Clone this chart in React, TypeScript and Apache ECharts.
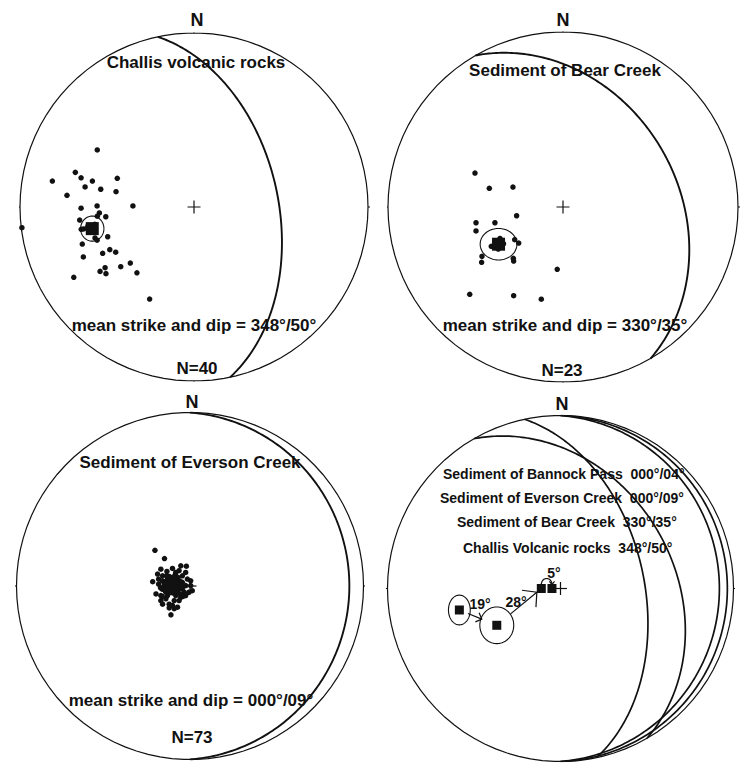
import { useEffect, useRef } from "react";
import * as echarts from "echarts";

const W = 741;
const H = 769;
const INK = "#111111";
const FONT = "'Liberation Sans', Arial, Helvetica, sans-serif";

// Mean bedding attitudes (strike / dip, right-hand rule)
const unitNames = ["Challis Volcanic rocks", "Sediment of Bear Creek", "Sediment of Everson Creek", "Sediment of Bannock Pass"];
const panelTitles = ["Challis volcanic rocks", "Sediment of Bear Creek", "Sediment of Everson Creek"];
const strikes = [348, 330, 0, 0];
const dips = [50, 35, 9, 4];

// Poles to bedding, Schmidt-net coordinates (x east, y north, unit primitive)
const challisPoles: [number, number][] = [
  [-0.556, 0.328], [-0.682, 0.199], [-0.814, 0.149], [-0.649, 0.168], [-0.584, 0.149],
  [-0.441, 0.165], [-0.626, 0.115], [-0.536, 0.102], [-0.448, 0.088], [-0.730, 0.067],
  [-0.351, 0.006], [-0.649, -0.007], [-0.557, 0.006], [-0.544, -0.034], [-0.507, -0.056],
  [-0.657, -0.075], [-0.556, -0.053], [-0.648, -0.128], [-0.634, -0.126], [-0.989, -0.119],
  [-0.569, -0.178], [-0.557, -0.191], [-0.496, -0.171], [-0.642, -0.213], [-0.636, -0.287],
  [-0.525, -0.266], [-0.484, -0.245], [-0.450, -0.260], [-0.691, -0.404], [-0.540, -0.370],
  [-0.511, -0.349], [-0.506, -0.383], [-0.421, -0.343], [-0.366, -0.322], [-0.328, -0.378],
  [-0.255, -0.529], [-0.590, -0.120], [-0.600, -0.140], [-0.570, -0.100], [-0.610, -0.110],
];

const bearCreekPoles: [number, number][] = [
  [-0.503, 0.194], [-0.421, 0.107], [-0.286, 0.114], [-0.265, -0.050], [-0.497, -0.090],
  [-0.389, -0.090], [-0.497, -0.137], [-0.276, -0.187], [-0.253, -0.206], [-0.410, -0.225],
  [-0.463, -0.282], [-0.465, -0.316], [-0.284, -0.293], [-0.282, -0.309], [-0.033, -0.356],
  [-0.533, -0.499], [-0.282, -0.507], [-0.124, -0.527], [-0.390, -0.200], [-0.360, -0.180],
  [-0.340, -0.210], [-0.370, -0.240], [-0.350, -0.220],
];

const eversonPoles: [number, number][] = [
  [-0.202, 0.206], [-0.147, 0.158], [-0.168, 0.097], [-0.133, 0.084], [-0.101, 0.101],
  [-0.063, 0.088], [-0.021, 0.114], [-0.025, 0.078], [-0.187, 0.069], [-0.215, 0.025],
  [-0.181, 0.040], [-0.181, 0.011], [-0.162, -0.017], [-0.196, -0.046], [-0.168, -0.055],
  [-0.139, -0.074], [-0.158, -0.105], [-0.120, -0.105], [-0.091, -0.084], [-0.063, -0.084],
  [-0.072, -0.122], [-0.120, -0.126], [-0.110, -0.166], [-0.044, -0.017], [-0.025, 0.002],
  [0.004, 0.002], [0.013, -0.027], [-0.006, -0.036], [-0.044, 0.021], [-0.015, 0.040],
  [-0.139, -0.036], [-0.149, 0.021], [-0.053, -0.065], [-0.025, -0.055], [-0.091, -0.131],
  [-0.130, -0.055], [-0.044, 0.059], [-0.158, 0.059], [-0.053, 0.116], [-0.082, 0.078],
  [0.004, 0.030], [-0.034, -0.036], [-0.168, -0.084], [-0.082, -0.055], [-0.101, -0.112],
  [-0.090, 0.040], [-0.130, 0.040], [-0.080, -0.030], [-0.140, -0.030], [-0.100, 0.000],
  [-0.120, 0.020], [-0.110, -0.020], [-0.070, 0.010], [-0.150, 0.000], [-0.090, -0.010],
  [-0.130, -0.010], [-0.110, 0.030], [-0.100, -0.040], [-0.120, -0.040], [-0.060, 0.030],
  [-0.160, 0.030], [-0.065, -0.020], [-0.155, -0.020], [-0.100, 0.050], [-0.120, 0.055],
  [-0.085, 0.065], [-0.135, 0.060], [-0.070, 0.050], [-0.050, 0.000], [-0.170, -0.010],
  [-0.060, -0.045], [-0.160, -0.060], [-0.040, -0.060],
];
const poleSets = [challisPoles, bearCreekPoles, eversonPoles];

// 95% confidence ellipse semi-axes (net units) around the mean poles
const panelConfidence: [number, number][] = [[0.067, 0.072], [0.105, 0.09]];
const summaryConfidence: [number, number][] = [[0.063, 0.086], [0.098, 0.106]];

// Angles between successive mean poles (Challis -> Bear -> Everson -> Bannock)
const rotationAngles = [19, 28, 5];

// Net placement on the page (centre and primitive radius in px)
const panels = [
  { cx: 194, cy: 207, R: 174 },
  { cx: 563, cy: 207, R: 175 },
  { cx: 190, cy: 586, R: 173.5 },
  { cx: 560.5, cy: 588.5, R: 173 },
];

const rad = Math.PI / 180;
type P = [number, number];

// Lower-hemisphere equal-area projection of a unit vector (east, north, down)
function project(e: number, n: number, d: number): P {
  if (d < 0) { e = -e; n = -n; d = -d; }
  const plunge = Math.asin(Math.min(1, d));
  const r = Math.SQRT2 * Math.sin((Math.PI / 2 - plunge) / 2);
  const h = Math.hypot(e, n);
  if (h < 1e-9) return [0, 0];
  return [(r * e) / h, (r * n) / h];
}

function poleOf(strike: number, dip: number): P {
  const trend = (strike + 270) * rad;
  const plunge = (90 - dip) * rad;
  return project(Math.cos(plunge) * Math.sin(trend), Math.cos(plunge) * Math.cos(trend), Math.sin(plunge));
}

function greatCircle(strike: number, dip: number): P[] {
  const s = strike * rad, dd = (strike + 90) * rad, d = dip * rad;
  const S = [Math.sin(s), Math.cos(s), 0];
  const D = [Math.cos(d) * Math.sin(dd), Math.cos(d) * Math.cos(dd), Math.sin(d)];
  const pts: P[] = [];
  for (let t = 0; t <= 180; t += 1) {
    const c = Math.cos(t * rad), si = Math.sin(t * rad);
    pts.push(project(c * S[0] + si * D[0], c * S[1] + si * D[1], c * S[2] + si * D[2]));
  }
  return pts;
}

function ellipse(c: P, rx: number, ry: number, from = 0, to = 360): P[] {
  const pts: P[] = [];
  for (let a = from; from <= to ? a <= to : a >= to; a += from <= to ? 4 : -4) {
    pts.push([c[0] + rx * Math.cos(a * rad), c[1] + ry * Math.sin(a * rad)]);
  }
  return pts;
}

function lerp(a: P, b: P, t: number): P {
  return [a[0] + (b[0] - a[0]) * t, a[1] + (b[1] - a[1]) * t];
}

// Open arrowhead: two barbs swept back from the tip
function barbs(tip: P, heading: number, len: number, half = 45): P[] {
  const back = heading + Math.PI;
  return [
    [tip[0] + len * Math.cos(back + half * rad), tip[1] + len * Math.sin(back + half * rad)],
    tip,
    [tip[0] + len * Math.cos(back - half * rad), tip[1] + len * Math.sin(back - half * rad)],
  ];
}

const pad3 = (v: number) => String(v).padStart(3, "0");
const pad2 = (v: number) => String(v).padStart(2, "0");
const attitude = (i: number) => `${pad3(strikes[i])}°/${pad2(dips[i])}°`;

function linesSeries(i: number, paths: P[][], width: number) {
  return {
    type: "lines",
    coordinateSystem: "cartesian2d",
    xAxisIndex: i,
    yAxisIndex: i,
    polyline: true,
    silent: true,
    symbol: "none",
    lineStyle: { color: INK, width, opacity: 1, curveness: 0 },
    data: paths.map((c) => ({ coords: c })),
    z: 2,
  };
}

function frame(i: number): any[] {
  const R = panels[i].R;
  const tk = 1 + 9 / R;
  const cr = 6.5 / R;
  const ticks: P[][] = [
    [[0, 1], [0, tk]], [[0, -1], [0, -tk]], [[1, 0], [tk, 0]], [[-1, 0], [-tk, 0]],
  ];
  const cross: P[][] = [[[-cr, 0], [cr, 0]], [[0, -cr], [0, cr]]];
  return [linesSeries(i, [ellipse([0, 0], 1, 1, 0, 360).concat([[1, 0]])], 1.2), linesSeries(i, [...ticks, ...cross], 1.2)];
}

function dotSeries(i: number, data: P[], size: number, symbol = "circle") {
  return {
    type: "scatter",
    xAxisIndex: i,
    yAxisIndex: i,
    symbol,
    symbolSize: size,
    silent: true,
    clip: false,
    itemStyle: { color: INK, opacity: 1 },
    data,
    z: 3,
  };
}

function buildOption() {
  const series: any[] = [];
  const means = strikes.map((s, k) => poleOf(s, dips[k]));

  // Individual nets
  for (let i = 0; i < 3; i++) {
    series.push(...frame(i));
    series.push(linesSeries(i, [greatCircle(strikes[i], dips[i])], 1.9));
    series.push(dotSeries(i, poleSets[i], 5.5));
    series.push(dotSeries(i, [means[i]], i === 2 ? 14 : 13, "rect"));
    if (i < 2) {
      const [rx, ry] = panelConfidence[i];
      series.push(linesSeries(i, [ellipse(means[i], rx, ry)], 1.1));
    }
  }

  // Summary net
  series.push(...frame(3));
  series.push(linesSeries(3, strikes.map((s, k) => greatCircle(s, dips[k])), 1.7));
  series.push(dotSeries(3, means, 9, "rect"));
  series.push(linesSeries(3, summaryConfidence.map(([rx, ry], k) => ellipse(means[k], rx, ry)), 1.1));

  const arrows: P[][] = [];
  const a1s = lerp(means[0], means[1], 0.23), a1e = lerp(means[0], means[1], 0.6);
  const h1 = Math.atan2(means[1][1] - means[0][1], means[1][0] - means[0][0]);
  arrows.push([a1s, a1e], barbs(a1e, h1, 7 / panels[3].R, 45));
  const a2s = lerp(means[1], means[2], 0.31), a2e = lerp(means[1], means[2], 0.9);
  const h2 = Math.atan2(means[2][1] - means[1][1], means[2][0] - means[1][0]);
  arrows.push([a2s, a2e], barbs(a2e, h2, 15 / panels[3].R, 47));
  const mid: P = [(means[2][0] + means[3][0]) / 2, means[2][1] + 4 / panels[3].R];
  const span = (means[3][0] - means[2][0]) / 2;
  const arc = ellipse(mid, span, 6 / panels[3].R, 180, 0);
  arrows.push(arc, barbs(arc[arc.length - 1], -Math.PI / 2, 4 / panels[3].R, 40));
  series.push(linesSeries(3, arrows, 1.2));

  const txt = (x: number, y: number, text: string, size: number, align = "center") => ({
    type: "text",
    x,
    y,
    silent: true,
    z: 10,
    style: {
      text,
      fill: INK,
      font: `bold ${size}px ${FONT}`,
      align,
      verticalAlign: "middle",
      textAlign: align,
      textVerticalAlign: "middle",
    },
  });

  const graphics: any[] = [
    txt(197, 20, "N", 18),
    txt(563, 20, "N", 18),
    txt(192, 402, "N", 18),
    txt(562, 404, "N", 18),
    txt(196, 62, panelTitles[0], 17),
    txt(565, 70, panelTitles[1], 17),
    txt(190, 462, panelTitles[2], 17),
    txt(194, 325, `mean strike and dip = ${attitude(0)}`, 17),
    txt(565, 325, `mean strike and dip = ${attitude(1)}`, 17),
    txt(191, 700, `mean strike and dip = ${attitude(2)}`, 17),
    txt(197, 368, `N=${challisPoles.length}`, 17),
    txt(562, 370, `N=${bearCreekPoles.length}`, 17),
    txt(192, 737, `N=${eversonPoles.length}`, 17),
    // summary legend, youngest unit first
    txt(443, 474, `${unitNames[3]}\u00a0\u00a0${attitude(3)}`, 14, "left"),
    txt(440, 498, `${unitNames[2]}\u00a0\u00a0${attitude(2)}`, 14, "left"),
    txt(457, 522, `${unitNames[1]}\u00a0\u00a0${attitude(1)}`, 14, "left"),
    txt(463, 548, `${unitNames[0]}\u00a0\u00a0${attitude(0)}`, 14, "left"),
    txt(480, 604, `${rotationAngles[0]}°`, 14),
    txt(516, 602, `${rotationAngles[1]}°`, 14),
    txt(554, 573, `${rotationAngles[2]}°`, 14),
  ];

  return {
    animation: false,
    backgroundColor: "#ffffff",
    grid: panels.map((p) => ({ left: p.cx - p.R, top: p.cy - p.R, width: 2 * p.R, height: 2 * p.R })),
    xAxis: panels.map((_, i) => ({ type: "value", gridIndex: i, min: -1, max: 1, show: false })),
    yAxis: panels.map((_, i) => ({ type: "value", gridIndex: i, min: -1, max: 1, show: false })),
    series,
    graphic: graphics,
  };
}

export default function App() {
  const ref = useRef<HTMLDivElement>(null);
  useEffect(() => {
    document.body.style.margin = "0";
    if (!ref.current) return;
    const chart = echarts.init(ref.current, null, { renderer: "svg" });
    chart.setOption(buildOption() as any);
    return () => chart.dispose();
  }, []);
  return <div ref={ref} style={{ width: W, height: H, background: "#fff" }} />;
}
